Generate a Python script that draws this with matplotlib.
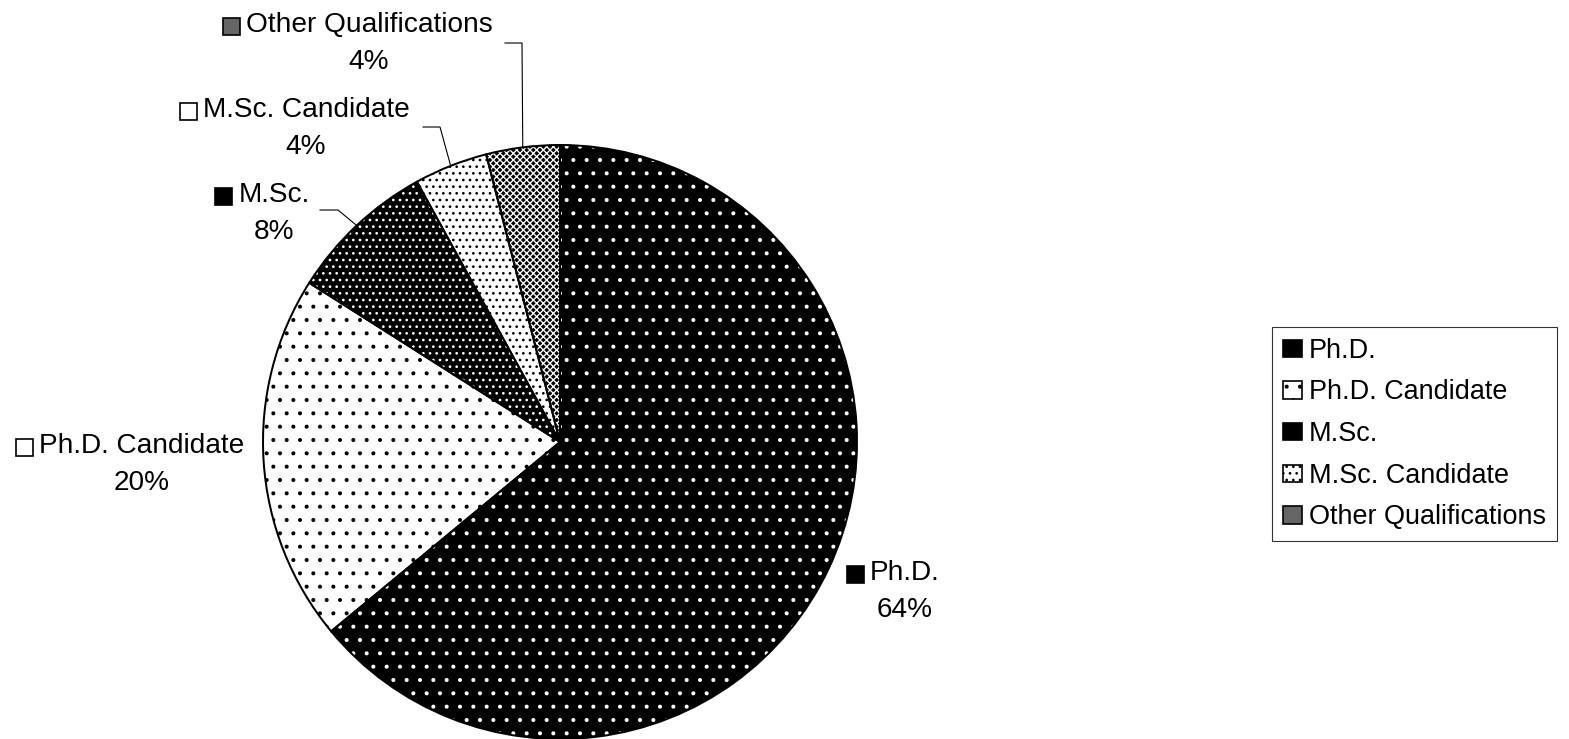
import numpy as np
import matplotlib.pyplot as plt
from matplotlib.patches import Rectangle, Patch

# slices, clockwise from 12 o'clock
labels = ['Ph.D.', 'Ph.D. Candidate', 'M.Sc.', 'M.Sc. Candidate', 'Other Qualifications']
shares = [64, 20, 8, 4, 4]

# fill, dot colour and hatch per slice (black & white print look)
faces = ['black', 'white', 'black', 'white', 'black']
dots = ['white', 'black', 'white', 'black', 'white']
hatches = ['.', '.', '..', '..', 'xxxx']
# small key squares next to the labels / in the legend
key_faces = ['black', 'white', 'black', 'white', '0.4']

W, H, DPI = 1569, 739, 80
FS = 28 * 72 / DPI  # ~28 px text

plt.rcParams['font.family'] = ['Liberation Sans', 'DejaVu Sans']
plt.rcParams['hatch.linewidth'] = 1.2

fig = plt.figure(figsize=(W / DPI, H / DPI), dpi=DPI)
ax = fig.add_axes([0, 0, 1, 1])

cx, cy, r = 560, H - 442, 297
wedges, _ = ax.pie(shares, startangle=90, counterclock=False, center=(cx, cy),
                   radius=r, colors=faces, wedgeprops=dict(linewidth=0))
for w, d, h in zip(wedges, dots, hatches):
    w.set_edgecolor(d)
    w.set_hatch(h)
# outlines drawn on top
ax.pie(shares, startangle=90, counterclock=False, center=(cx, cy), radius=r,
       wedgeprops=dict(fill=False, edgecolor='black', linewidth=1.8))

ax.set_xlim(0, W)
ax.set_ylim(0, H)
ax.set_aspect('equal')
ax.axis('off')

# data labels: (text centre x, first line y) in pixels from top
label_pos = [(905, 573), (142, 446), (274, 195), (306, 110), (369, 25)]
line_gap = 37
# leader elbows (pixels from top) for the small slices, None = no leader
leaders = [None, None, [(320, 210), (338, 210)], [(423, 127), (440, 127)],
           [(505, 43), (522, 43)]]

renderer = fig.canvas.get_renderer()
key = 17
for i, (lab, v) in enumerate(zip(labels, shares)):
    x, y = label_pos[i]
    t = ax.text(x, H - y, lab, ha='center', va='center', fontsize=FS)
    ax.text(x, H - y - line_gap, f'{v}%', ha='center', va='center', fontsize=FS)
    bb = t.get_window_extent(renderer)
    ax.add_patch(Rectangle((bb.x0 - 6 - key, H - y - key / 2 - 1), key, key,
                           facecolor=key_faces[i], edgecolor='black', lw=1.5))
    if leaders[i] is not None:
        w = wedges[i]
        mid = np.deg2rad((w.theta1 + w.theta2) / 2)
        pts = [(px, H - py) for px, py in leaders[i]]
        pts.append((cx + r * np.cos(mid), cy + r * np.sin(mid)))
        xs, ys = zip(*pts)
        ax.plot(xs, ys, color='black', lw=1)

handles = [Patch(facecolor=f, edgecolor='black', hatch=(h if d == 'black' else None), lw=1.5)
           for f, d, h in zip(key_faces, dots, hatches)]
leg = ax.legend(handles, labels, loc='upper left', bbox_to_anchor=(1272 / W, 1 - 327 / H),
                borderaxespad=0, fontsize=27 * 72 / DPI, frameon=True, fancybox=False,
                handlelength=0.72, handleheight=0.62, handletextpad=0.25,
                labelspacing=0.58, borderpad=0.4)
leg.get_frame().set_edgecolor('black')
leg.get_frame().set_linewidth(1)

fig.savefig('out.png', dpi=DPI)
